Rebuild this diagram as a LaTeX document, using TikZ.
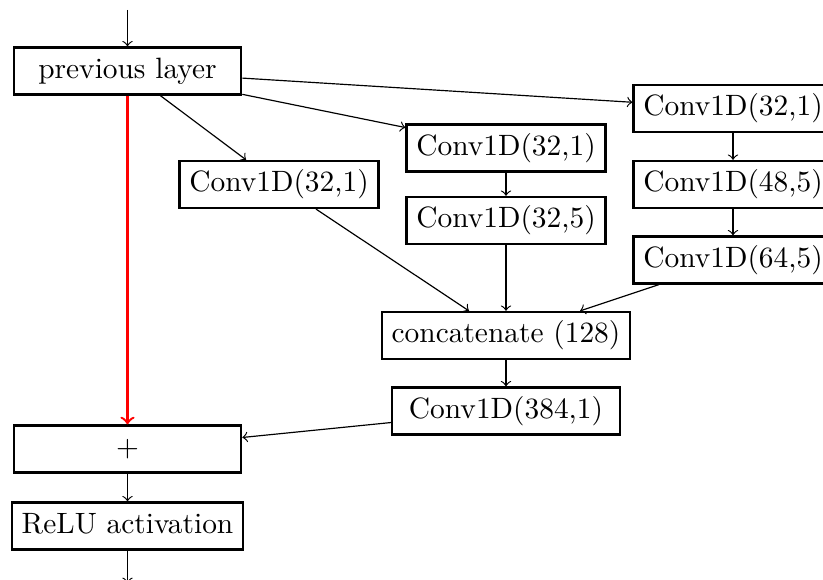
\documentclass[tikz,border=0pt]{standalone}
\usetikzlibrary{arrows}
\begin{document}
\begin{tikzpicture}[x=0.34pt,y=-0.34pt,
  layer/.style={draw,line width=0.75pt,inner xsep=3.33pt,inner ysep=3pt,
    text height=7.5pt,text depth=2.5pt,minimum height=15.9pt},
  wide/.style={layer,minimum width=77.3pt},
  conn/.style={->,line width=0.4pt},
  skip/.style={->,thick,red}]
\useasboundingbox (0,0) rectangle (823,580);

% input / output stubs
\coordinate (in) at (127.5,10);
\coordinate (out) at (127.5,583);

% left column
\node[wide] (prev) at (127.5,71) {previous layer};
\node[wide] (add) at (127.5,449) {$+$};
\node[wide] (relu) at (127.5,526) {ReLU activation};

% branch 1
\node[layer] (b1) at (279,184.5) {Conv1D(32,1)};

% branch 2
\node[layer] (b2a) at (506,148) {Conv1D(32,1)};
\node[layer] (b2b) at (506,220.5) {Conv1D(32,5)};

% branch 3
\node[layer] (b3a) at (733,108.5) {Conv1D(32,1)};
\node[layer] (b3b) at (733,184.5) {Conv1D(48,5)};
\node[layer] (b3c) at (733,260) {Conv1D(64,5)};

% merge
\node[layer] (cat) at (506,335.5) {concatenate (128)};
\node[wide] (proj) at (506,411) {Conv1D(384,1)};

\draw[conn] (in) -- (prev);
\draw[conn] (prev) -- (b1);
\draw[conn] (prev) -- (b2a);
\draw[conn] (prev) -- (b3a);
\draw[conn] (b2a) -- (b2b);
\draw[conn] (b3a) -- (b3b);
\draw[conn] (b3b) -- (b3c);
\draw[conn] (b1) -- (cat);
\draw[conn] (b2b) -- (cat);
\draw[conn] (b3c) -- (cat);
\draw[conn] (cat) -- (proj);
\draw[conn] (proj) -- (add);
\draw[skip] (prev) -- (add);
\draw[conn] (add) -- (relu);
\draw[conn] (relu) -- (out);
\end{tikzpicture}
\end{document}
